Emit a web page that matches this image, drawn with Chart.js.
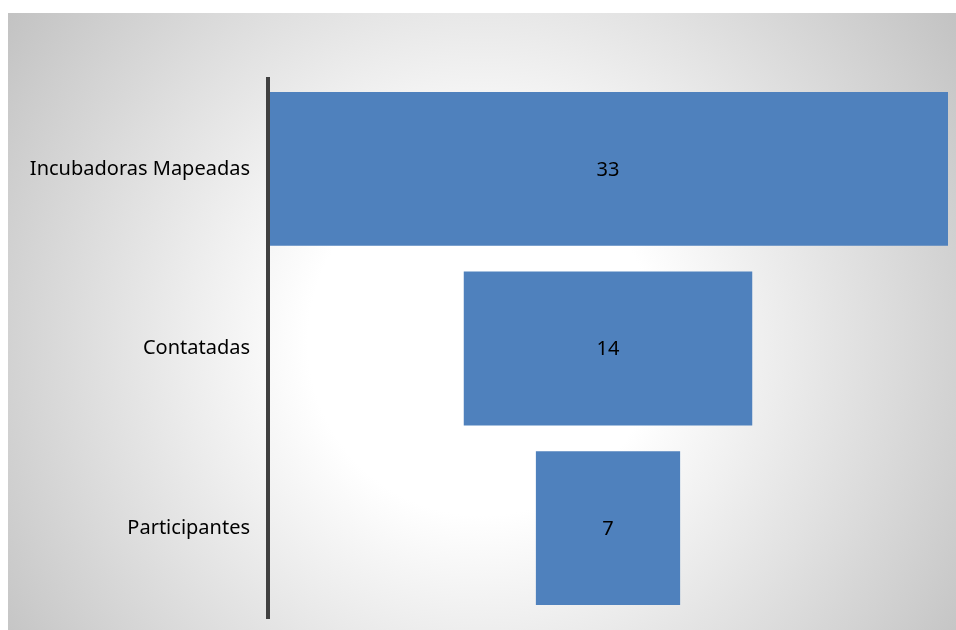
<!DOCTYPE html>
<html>
<head>
<meta charset="utf-8">
<script src="https://cdn.jsdelivr.net/npm/chart.js@4"></script>
<style>
  html, body { margin: 0; padding: 0; background: #fff; }
  #wrap { width: 956px; height: 630px; }
</style>
</head>
<body>
<div id="wrap"><canvas id="funnel"></canvas></div>
<script>
// funnel data
const stages = ['Incubadoras Mapeadas', 'Contatadas', 'Participantes'];
const counts = [33, 14, 7];

const maxCount = Math.max(...counts);
// each bar is centred on the widest one (floating bars)
const ranges = counts.map(v => [(maxCount - v) / 2, (maxCount + v) / 2]);

// grey "from centre" fill behind the chart, like the Excel chart area
const bgPlugin = {
  id: 'areaBg',
  beforeDraw(chart) {
    const ctx = chart.ctx;
    const x0 = 8, y0 = 13, x1 = chart.width, y1 = chart.height;
    const cx = (x0 + x1) / 2, cy = (y0 + y1) / 2 + 20;
    const g = ctx.createRadialGradient(cx, cy, 0, cx, cy, 580);
    g.addColorStop(0, '#ffffff');
    g.addColorStop(0.3, '#ffffff');
    g.addColorStop(1, '#c2c2c2');
    ctx.save();
    ctx.fillStyle = g;
    ctx.fillRect(x0, y0, x1 - x0, y1 - y0);
    ctx.restore();
  }
};

// value in the middle of every bar
const valuePlugin = {
  id: 'barValues',
  afterDatasetsDraw(chart) {
    const ctx = chart.ctx;
    const meta = chart.getDatasetMeta(0);
    ctx.save();
    ctx.font = '20px "Noto Sans"';
    ctx.fillStyle = '#000';
    ctx.textAlign = 'center';
    ctx.textBaseline = 'middle';
    meta.data.forEach((bar, i) => {
      const p = bar.getProps(['x', 'base', 'y'], true);
      ctx.fillText(String(counts[i]), (p.x + p.base) / 2, p.y + 1);
    });
    ctx.restore();
  }
};

new Chart(document.getElementById('funnel'), {
  type: 'bar',
  data: {
    labels: stages,
    datasets: [{
      data: ranges,
      backgroundColor: '#4f81bd',
      borderWidth: 0,
      categoryPercentage: 1,
      barPercentage: 0.856
    }]
  },
  options: {
    indexAxis: 'y',
    responsive: true,
    maintainAspectRatio: false,
    animation: false,
    layout: { padding: { left: 0, right: 8, top: 79, bottom: 12 } },
    plugins: {
      legend: { display: false },
      tooltip: { enabled: false }
    },
    scales: {
      x: {
        display: false,
        min: 0,
        max: maxCount
      },
      y: {
        grid: { display: false, drawTicks: false },
        border: { display: true, color: '#404040', width: 4, z: 1 },
        ticks: {
          padding: 18,
          color: '#000',
          font: { family: '"Noto Sans"', size: 20 }
        },
        afterFit(scale) {
          scale.width = 268;
          // labels sit mid-band, so no extra room above/below is needed
          scale.paddingTop = 0;
          scale.paddingBottom = 0;
        }
      }
    }
  },
  plugins: [bgPlugin, valuePlugin]
});
</script>
</body>
</html>
